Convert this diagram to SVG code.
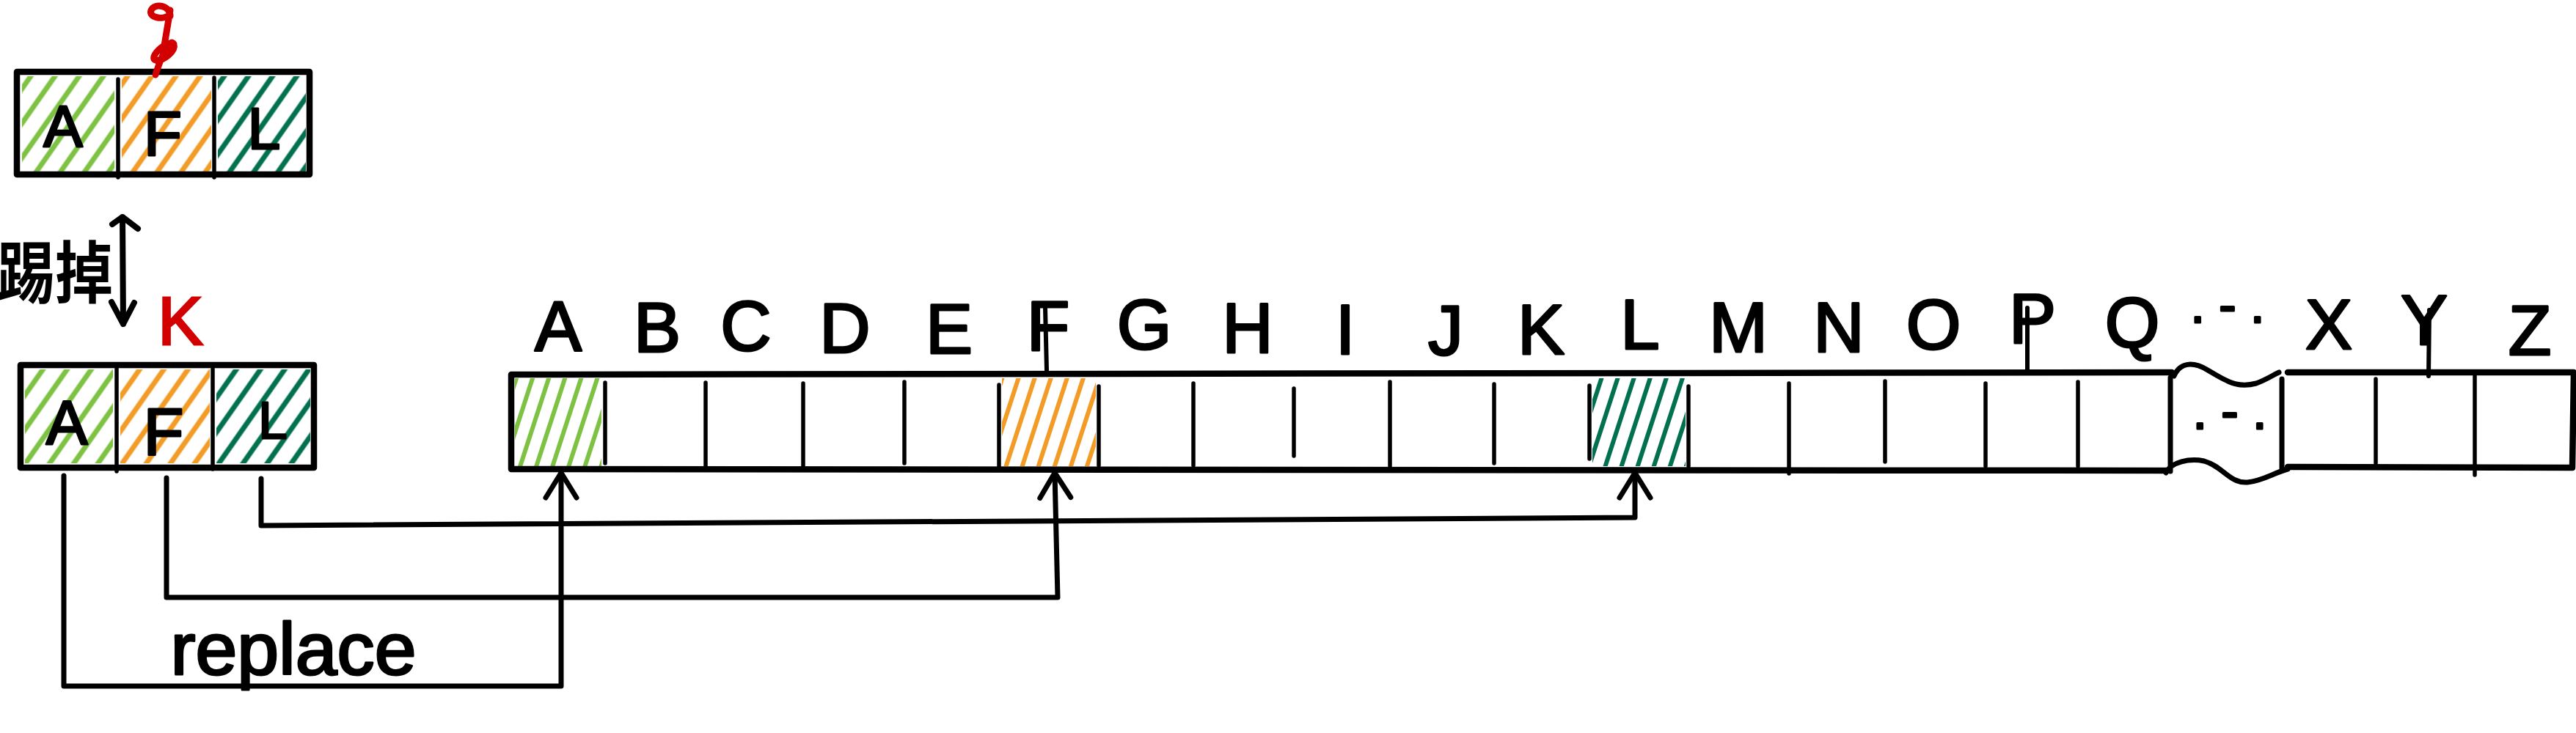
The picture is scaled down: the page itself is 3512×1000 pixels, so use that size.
<svg xmlns="http://www.w3.org/2000/svg" width="3512" height="1000" viewBox="0 0 3512 1000">
<style>
.ln{fill:none;stroke:#000;stroke-linecap:round;stroke-linejoin:round}
.box{stroke-width:8.5}
.dv{stroke-width:5.5}
.cn{stroke-width:7}
.lt{font-family:"Liberation Sans",Arial,sans-serif;fill:#000;stroke:#000;stroke-width:3;stroke-linejoin:round;text-anchor:middle}
.red{fill:none;stroke:#d20000;stroke-width:9;stroke-linecap:round;stroke-linejoin:round}
</style>
<defs>
<pattern id="hLG" patternUnits="userSpaceOnUse" width="27" height="40" patternTransform="rotate(35)"><line x1="13" y1="-2" x2="13" y2="42" stroke="#7dc242" stroke-width="7"/></pattern>
<pattern id="hOR" patternUnits="userSpaceOnUse" width="27" height="40" patternTransform="rotate(35)"><line x1="13" y1="-2" x2="13" y2="42" stroke="#f29b26" stroke-width="7"/></pattern>
<pattern id="hDG" patternUnits="userSpaceOnUse" width="27" height="40" patternTransform="rotate(35)"><line x1="13" y1="-2" x2="13" y2="42" stroke="#00704e" stroke-width="7"/></pattern>
<pattern id="sLG" patternUnits="userSpaceOnUse" width="21" height="40" patternTransform="rotate(18)"><line x1="10" y1="-2" x2="10" y2="42" stroke="#7dc242" stroke-width="6"/></pattern>
<pattern id="sOR" patternUnits="userSpaceOnUse" width="21" height="40" patternTransform="rotate(18)"><line x1="10" y1="-2" x2="10" y2="42" stroke="#f29b26" stroke-width="6"/></pattern>
<pattern id="sDG" patternUnits="userSpaceOnUse" width="21" height="40" patternTransform="rotate(18)"><line x1="10" y1="-2" x2="10" y2="42" stroke="#00704e" stroke-width="6"/></pattern>
<marker id="ah" markerUnits="userSpaceOnUse" markerWidth="54" markerHeight="54" refX="42" refY="27" orient="auto"><path d="M8 6 L42 27 L8 48" fill="none" stroke="#000" stroke-width="7" stroke-linecap="round" stroke-linejoin="round"/></marker>
</defs>
<rect width="3512" height="1000" fill="#fff"/>

<g id="cache-top">
<rect x="30" y="104" width="126" height="130" fill="url(#hLG)"/>
<rect x="166" y="104" width="122" height="130" fill="url(#hOR)"/>
<rect x="297" y="104" width="120" height="130" fill="url(#hDG)"/>
<rect class="ln box" x="23" y="98" width="399" height="140"/>
<path class="ln dv" d="M161 108 L161 242 M292 106 L292 242"/>
<text class="lt" x="86" y="200" font-size="80">A</text>
<text class="lt" x="222" y="212" font-size="85">F</text>
<text class="lt" x="360" y="203" font-size="80">L</text>
<path class="red" d="M232 22 C232 8 212 3 206 14 C202 24 222 28 232 20 M232 14 L224 62 M224 62 C212 70 206 80 212 82 C222 84 240 70 237 60 C233 52 222 70 212 102"/>
</g>

<g id="swap-label">
<text x="-4" y="406" font-family="'Noto Sans CJK SC',sans-serif" font-size="92" font-weight="700" textLength="158" lengthAdjust="spacingAndGlyphs" fill="#000">踢掉</text>
<path class="ln" stroke-width="8" d="M167 296 L168 442 M153 306 L167 296 L188 312 M152 412 L168 442 L183 413"/>
<text x="246" y="470" font-family="'Liberation Sans',Arial,sans-serif" font-size="92" fill="#d20000" stroke="#d20000" stroke-width="3" text-anchor="middle">K</text>
</g>

<g id="cache-bottom">
<rect x="34" y="504" width="120" height="128" fill="url(#hLG)"/>
<rect x="164" y="504" width="122" height="128" fill="url(#hOR)"/>
<rect x="295" y="504" width="128" height="128" fill="url(#hDG)"/>
<rect class="ln box" x="28" y="498" width="400" height="140"/>
<path class="ln dv" d="M159 503 L159 643 M290 503 L290 640"/>
<text class="lt" x="91" y="606" font-size="85">A</text>
<text class="lt" x="223" y="620" font-size="90">F</text>
<text class="lt" x="372" y="598" font-size="70">L</text>
</g>

<g id="memory">
<rect x="702" y="516" width="118" height="120" fill="url(#sLG)"/>
<rect x="1366" y="516" width="128" height="120" fill="url(#sOR)"/>
<rect x="2171" y="516" width="127" height="120" fill="url(#sDG)"/>
<path class="ln box" d="M697 511 L2961 508 M697 511 L697 640 L2953 642 M3119 508 L3509 508 L3507 638 L3119 637"/>
<path class="ln dv" d="M825 522 L825 632 M962 522 L962 637 M1095 523 L1095 637 M1233 521 L1233 632 M1362 525 L1362 637 M1498 527 L1498 635 M1627 523 L1627 635 M1764 530 L1764 622 M1895 521 L1895 636 M2037 524 L2037 632 M2167 526 L2167 626 M2302 527 L2302 636 M2439 523 L2439 646 M2570 520 L2570 630 M2707 523 L2707 636 M2833 521 L2833 636 M3239 517 L3239 632 M3374 513 L3374 648"/>
<path class="ln" stroke-width="7" d="M2959 515 L2959 643 M3111 517 L3111 640 M2964 513 C2972 494 2990 493 3010 505 C3035 520 3050 530 3076 523 C3090 518 3100 511 3107 508 M2953 645 C2960 630 2985 625 3005 629 C3030 636 3040 660 3064 658 C3085 656 3100 645 3119 640"/>
<path class="ln" stroke-width="6" d="M1425 420 L1427 505 M2764 420 L2764 505 M3312 423 L3311 513"/>
<text class="lt" x="3040" y="585" font-size="70">. - .</text>
<g class="lt" font-size="96">
<text x="761" y="478">A</text>
<text x="896" y="480">B</text>
<text x="1017" y="478">C</text>
<text x="1152" y="481">D</text>
<text x="1294" y="482">E</text>
<text x="1429" y="478">F</text>
<text x="1560" y="476">G</text>
<text x="1701" y="481">H</text>
<text x="1834" y="483">I</text>
<text x="1971" y="484">J</text>
<text x="2101" y="483">K</text>
<text x="2236" y="476">L</text>
<text x="2370" y="480">M</text>
<text x="2507" y="480">N</text>
<text x="2636" y="476">O</text>
<text x="2771" y="468">P</text>
<text x="2907" y="474">Q</text>
<text x="3175" y="476">X</text>
<text x="3305" y="470">Y</text>
<text x="3449" y="484">Z</text>
</g>
<text class="lt" x="3037" y="440" font-size="70">. - .</text>
</g>

<g id="connectors">
<path class="ln cn" marker-end="url(#ah)" d="M87 649 L87 936 L765 936 L765 645"/>
<path class="ln cn" marker-end="url(#ah)" d="M227 652 L227 815 L1442 815 L1438 645"/>
<path class="ln cn" marker-end="url(#ah)" d="M356 653 L356 717 L2229 706 L2229 645"/>
<text class="lt" x="400" y="920" font-size="100" textLength="335" lengthAdjust="spacingAndGlyphs">replace</text>
</g>
</svg>
